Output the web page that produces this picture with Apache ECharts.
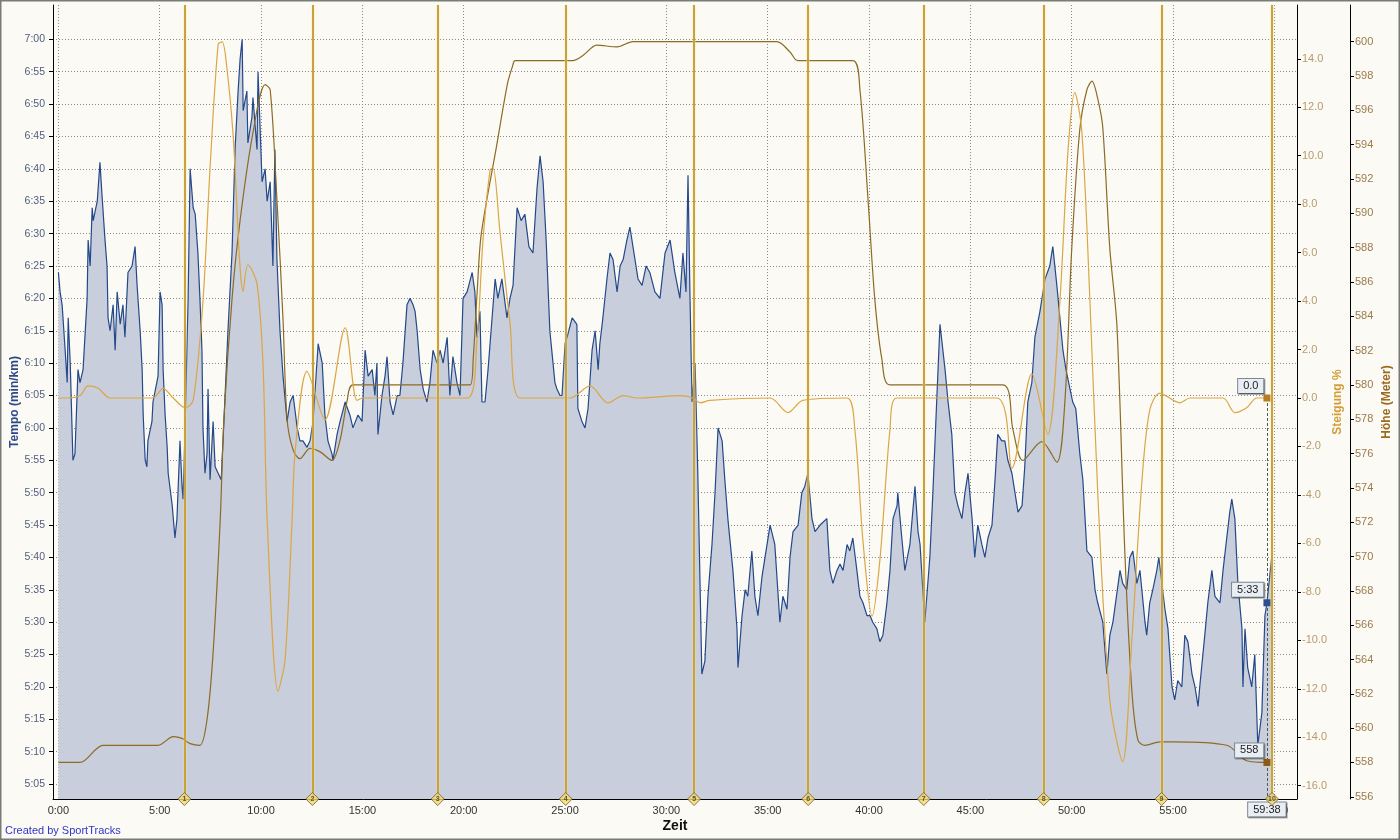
<!DOCTYPE html>
<html><head><meta charset="utf-8">
<script src="https://cdn.jsdelivr.net/npm/echarts@6/dist/echarts.min.js"></script>
<style>html,body{margin:0;padding:0;background:#FBFAF5}#c{width:1400px;height:840px}</style>
</head><body><div id="c"></div>
<script>
// time in seconds, pace in seconds per km
const tempo = [[0,384],[5,381],[11,379],[20,372],[26,367],[29,377],[35,370],[43,355],[49,356],[58,369],[64,367],[73,369],[85,380],[88,389],[94,385],[100,394],[103,392],[115,395],[123,401],[129,396],[138,389],[144,385],[147,377],[153,375],[162,379],[168,372],[174,381],[183,376],[191,379],[197,374],[206,384],[218,385],[227,388],[233,382],[242,375],[248,369],[251,362],[257,355],[262,354],[265,358],[277,361],[280,364],[295,368],[301,381],[307,379],[310,369],[316,362],[322,357],[325,353],[337,348],[345,343],[351,346],[360,358],[366,351],[369,349],[375,360],[384,380],[390,400],[399,394],[405,393],[413,387],[419,380],[425,372],[428,360],[434,353],[440,356],[443,366],[449,352],[458,361],[464,354],[473,353],[482,352],[490,361],[502,375],[514,387],[523,403],[532,412],[538,417],[544,420],[547,409],[558,412],[561,404],[573,408],[576,411],[588,403],[591,415],[603,398],[612,400],[618,395],[627,398],[635,385],[641,403],[647,386],[656,375],[665,368],[677,361],[686,364],[695,365],[707,360],[715,358],[724,358],[736,357],[745,358],[754,361],[769,373],[781,370],[789,362],[798,358],[810,356],[813,355],[825,359],[834,361],[849,364],[863,362],[872,360],[887,362],[899,361],[908,372],[917,368],[929,369],[937,365],[943,370],[946,359],[958,365],[967,368],[973,371],[982,364],[991,362],[1003,365],[1011,365],[1020,370],[1032,379],[1041,380],[1050,379],[1056,378],[1062,375],[1071,369],[1080,366],[1091,364],[1100,367],[1109,372],[1121,370],[1130,372],[1139,370],[1151,374],[1159,365],[1168,371],[1180,367],[1189,365],[1198,380],[1210,381],[1225,384],[1233,381],[1239,374],[1248,378],[1254,364],[1263,364],[1272,369],[1284,377],[1293,383],[1301,380],[1313,383],[1328,377],[1337,380],[1346,382],[1358,394],[1370,392],[1381,393],[1393,388],[1405,387],[1417,397],[1426,402],[1435,398],[1444,389],[1455,375],[1470,367],[1476,366],[1485,365],[1491,365],[1500,373],[1506,374],[1521,377],[1535,376],[1538,363],[1550,361],[1559,360],[1568,363],[1580,372],[1589,375],[1598,369],[1603,373],[1612,377],[1624,383],[1633,387],[1642,386],[1654,381],[1663,385],[1672,386],[1683,389],[1692,391],[1707,386],[1716,383],[1728,382],[1740,385],[1751,384],[1766,381],[1781,380],[1796,387],[1811,389],[1825,384],[1840,380],[1849,387],[1858,381],[1864,399],[1870,380],[1876,364],[1885,370],[1893,353],[1905,322],[1914,324],[1923,334],[1935,342],[1944,350],[1953,360],[1965,358],[1973,352],[1982,346],[1997,338],[2009,329],[2012,323],[2024,331],[2033,335],[2041,334],[2053,341],[2062,334],[2071,331],[2083,337],[2092,340],[2107,345],[2121,342],[2136,330],[2145,334],[2157,332],[2166,340],[2175,344],[2190,345],[2201,350],[2210,351],[2219,353],[2231,346],[2240,344],[2255,345],[2275,346],[2284,338],[2293,336],[2305,338],[2314,339],[2323,338],[2335,342],[2343,341],[2352,343],[2364,338],[2373,334],[2382,333],[2394,331],[2403,331],[2411,330],[2423,329],[2432,327],[2441,328],[2453,333],[2462,338],[2471,346],[2483,348],[2485,350],[2497,343],[2506,338],[2521,342],[2536,351],[2545,344],[2551,342],[2565,330],[2580,340],[2589,350],[2601,365],[2610,376],[2625,369],[2634,364],[2645,359],[2654,350],[2663,348],[2675,346],[2684,350],[2693,353],[2705,346],[2713,340],[2722,345],[2734,342],[2743,340],[2752,343],[2764,345],[2773,352],[2781,359],[2793,358],[2802,358],[2811,355],[2823,353],[2832,350],[2841,347],[2853,348],[2861,354],[2870,364],[2882,367],[2891,374],[2906,378],[2921,383],[2935,385],[2944,388],[2956,382],[2965,377],[2974,372],[2983,369],[2995,366],[3003,364],[3012,363],[3024,356],[3033,352],[3045,341],[3060,340],[3069,335],[3077,333],[3092,330],[3104,322],[3113,328],[3122,330],[3143,338],[3151,336],[3163,335],[3172,340],[3181,341],[3193,336],[3202,338],[3217,330],[3222,328],[3231,333],[3240,335],[3252,338],[3258,340],[3267,336],[3276,332],[3285,329],[3297,320],[3305,318],[3314,321],[3326,320],[3335,328],[3344,327],[3356,322],[3365,320],[3374,317],[3379,320],[3394,328],[3403,333],[3415,338],[3424,334],[3439,333],[3448,338],[3459,343],[3468,347],[3474,349],[3483,346],[3492,336],[3504,329],[3507,320],[3513,329],[3521,323],[3533,320],[3542,325],[3551,311],[3563,316],[3572,331],[3578,333],[3592,340]];

// elevation in meters
const elevation = [[0,558.0],[64,558.0],[132,559.0],[295,559.0],[340,559.5],[366,559.4],[390,559.1],[419,559.0],[440,560.5],[458,564.4],[479,572.1],[490,578.0],[514,585.0],[538,589.6],[576,594.7],[612,597.5],[627,597.2],[647,590.8],[665,583.8],[677,578.0],[695,576.2],[715,575.7],[745,576.3],[775,576.1],[810,575.6],[834,576.8],[855,579.1],[872,580.0],[1219,580.0],[1228,581.5],[1240,585.5],[1252,588.8],[1298,594.0],[1330,597.6],[1345,598.6],[1352,598.9],[1523,598.9],[1553,599.2],[1594,599.8],[1654,599.7],[1701,600.0],[2127,600.0],[2166,599.4],[2189,598.9],[2352,598.9],[2373,597.2],[2397,590.8],[2417,585.0],[2438,581.5],[2462,580.0],[2796,580.0],[2826,577.4],[2855,575.6],[2911,576.7],[2956,575.5],[2980,579.1],[3000,587.9],[3024,594.9],[3045,597.2],[3060,597.7],[3078,596.6],[3092,595.0],[3113,587.9],[3134,583.4],[3157,570.4],[3178,562.2],[3196,559.3],[3217,559.0],[3261,559.2],[3300,559.2],[3459,559.0],[3518,558.1],[3578,558.0]];

// grade in percent
const grade = [[0,0.0],[26,0.0],[64,0.1],[88,0.5],[118,0.4],[153,0.0],[280,0.0],[310,0.4],[340,0.0],[375,-0.4],[399,-0.1],[428,4.0],[449,9.5],[473,14.6],[485,14.7],[499,13.6],[517,10.9],[547,4.4],[561,5.5],[588,4.7],[606,1.3],[618,-5.0],[650,-12.1],[671,-10.8],[692,-5.0],[701,-2.2],[736,1.1],[789,-0.9],[849,2.9],[884,-0.1],[902,0.0],[1210,0.0],[1239,2.4],[1257,6.5],[1278,9.4],[1287,9.5],[1307,6.9],[1337,3.1],[1367,0.0],[1515,0.0],[1574,0.5],[1627,-0.2],[1672,0.1],[1713,0.0],[1840,0.1],[1879,0.0],[1900,-0.2],[1929,-0.1],[2107,0.0],[2160,-0.6],[2204,-0.1],[2335,0.0],[2358,-1.3],[2382,-5.9],[2409,-9.0],[2432,-6.7],[2462,-1.3],[2482,0.0],[2778,0.0],[2823,-2.9],[2882,1.0],[2929,-1.5],[2965,4.0],[2989,10.2],[3009,12.6],[3030,11.0],[3054,4.0],[3078,-4.2],[3113,-12.5],[3151,-15.0],[3178,-10.0],[3208,-3.4],[3231,-0.5],[3261,0.2],[3320,-0.2],[3350,0.0],[3448,0.0],[3483,-0.6],[3518,-0.4],[3548,0.0],[3578,0.0]];

const lapTimes = [373, 752, 1123, 1502, 1882, 2220, 2562, 2917, 3266, 3593];
const lapLabels = ['1','2','3','4','5','6','7','8','9','10'];
const timeTicks = [0,300,600,900,1200,1500,1800,2100,2400,2700,3000,3300,3600];
const tempoTicks = [305,310,315,320,325,330,335,340,345,350,355,360,365,370,375,380,385,390,395,400,405,410,415,420];
const gradeTicks = [-16,-14,-12,-10,-8,-6,-4,-2,0,2,4,6,8,10,12,14];
const heightTicks = [556,558,560,562,564,566,568,570,572,574,576,578,580,582,584,586,588,590,592,594,596,598,600];
const cursorTime = 3578;
const cursorTempo = 333;
const cursorGrade = 0.0;
const cursorHeight = 558;

const X_MIN = -16, X_MAX = 3667;
const T_MIN = 302.7, T_MAX = 425.3;
const G_MIN = -16.55, G_MAX = 16.22;
const H_MIN = 555.87, H_MAX = 602.14;

function fmtPace(v){ const m = Math.floor(v/60); const s = Math.round(v - m*60); return m + ':' + String(s).padStart(2,'0'); }
function fmtTime(v){ const m = Math.floor(v/60); const s = Math.round(v - m*60); return m + ':' + String(s).padStart(2,'0'); }

const FONT = 'Liberation Sans, Arial, sans-serif';
const boxLabel = {
  show: true, position: 'left', distance: 0,
  backgroundColor: '#E8EEF4', borderColor: '#7C8894', borderWidth: 1,
  padding: [2, 5, 1, 5], fontSize: 11, fontFamily: FONT, color: '#222',
  shadowColor: 'rgba(0,0,0,0.3)', shadowOffsetX: 1, shadowOffsetY: 1, shadowBlur: 0
};

const chart = echarts.init(document.getElementById('c'), null, {renderer: 'canvas'});
chart.setOption({
  backgroundColor: '#FBFAF5',
  animation: false,
  grid: {left: 53, right: 103, top: 5, bottom: 41, containLabel: false, outerBoundsMode: 'none'},
  graphic: [
    {type: 'rect', silent: true, z: 100, shape: {x: 0.5, y: 0.5, width: 1399, height: 839}, style: {fill: 'none', stroke: '#7A7A7A', lineWidth: 2}},
    {type: 'text', left: 5, top: 825, silent: true, style: {text: 'Created by SportTracks', fill: '#2F35C8', font: '11px ' + FONT}}
  ],
  xAxis: {
    type: 'value', min: X_MIN, max: X_MAX,
    name: 'Zeit', nameLocation: 'middle', nameGap: 20, nameMoveOverlap: false,
    nameTextStyle: {fontSize: 14, fontWeight: 'bold', color: '#111', fontFamily: FONT},
    axisLine: {onZero: false, lineStyle: {color: '#000', width: 1}},
    axisTick: {show: false, customValues: timeTicks},
    axisLabel: {customValues: timeTicks, formatter: v => fmtTime(v), fontSize: 11, color: '#333', fontFamily: FONT, margin: 6},
    splitLine: {show: true, lineStyle: {color: '#8A8A8A', type: [1, 2], width: 1}}
  },
  yAxis: [
    {
      type: 'value', min: T_MIN, max: T_MAX, position: 'left',
      name: 'Tempo (min/km)', nameLocation: 'middle', nameGap: 32, nameRotate: 90, nameMoveOverlap: false,
      nameTextStyle: {fontSize: 12, fontWeight: 'bold', color: '#2E4A86', fontFamily: FONT},
      axisLine: {show: true, onZero: false, lineStyle: {color: '#000'}},
      axisTick: {show: true, length: 4, customValues: tempoTicks, lineStyle: {color: '#000'}},
      axisLabel: {customValues: tempoTicks, formatter: v => fmtPace(v), fontSize: 10.5, color: '#4F5D7E', fontFamily: FONT, margin: 8},
      splitLine: {show: true, lineStyle: {color: '#8A8A8A', type: [1, 2], width: 1}}
    },
    {
      type: 'value', min: G_MIN, max: G_MAX, position: 'right', offset: 0,
      name: 'Steigung %', nameLocation: 'middle', nameGap: 35, nameRotate: 90, nameMoveOverlap: false,
      nameTextStyle: {fontSize: 12, fontWeight: 'bold', color: '#D29E3A', fontFamily: FONT},
      axisLine: {show: true, onZero: false, lineStyle: {color: '#000'}},
      axisTick: {show: true, length: 4, customValues: gradeTicks, lineStyle: {color: '#000'}},
      axisLabel: {customValues: gradeTicks, formatter: v => v.toFixed(1), fontSize: 11, color: '#B99A6B', fontFamily: FONT, margin: 5},
      splitLine: {show: false}
    },
    {
      type: 'value', min: H_MIN, max: H_MAX, position: 'right', offset: 53,
      name: 'Höhe (Meter)', nameLocation: 'middle', nameGap: 31, nameRotate: 90, nameMoveOverlap: false,
      nameTextStyle: {fontSize: 12, fontWeight: 'bold', color: '#9C6A1E', fontFamily: FONT},
      axisLine: {show: true, onZero: false, lineStyle: {color: '#000'}},
      axisTick: {show: true, length: 4, customValues: heightTicks, lineStyle: {color: '#000'}},
      axisLabel: {customValues: heightTicks, formatter: v => String(v), fontSize: 11, color: '#9C7B4B', fontFamily: FONT, margin: 5},
      splitLine: {show: false}
    }
  ],
  series: [
    {
      name: 'Tempo', type: 'line', xAxisIndex: 0, yAxisIndex: 0, data: tempo,
      showSymbol: false, symbol: 'none', z: 2,
      lineStyle: {color: '#24488A', width: 1.2},
      areaStyle: {color: '#C8CEDB', opacity: 1, origin: 'start'},
      markPoint: {
        z: 8, silent: true,
        data: [
          {coord: [cursorTime, cursorTempo], symbol: 'rect', symbolSize: 7, itemStyle: {color: '#2D4F8F'},
           label: Object.assign({}, boxLabel, {formatter: fmtPace(cursorTempo), offset: [0, -13]})},
          {coord: [cursorTime, T_MIN], symbol: 'rect', symbolSize: 1, itemStyle: {color: 'rgba(0,0,0,0)'},
           label: Object.assign({}, boxLabel, {position: 'bottom', distance: 3, formatter: fmtTime(cursorTime), offset: [0, 0]})}
        ]
      }
    },
    {
      name: 'Höhe', type: 'line', xAxisIndex: 0, yAxisIndex: 2, data: elevation,
      showSymbol: false, symbol: 'none', smooth: 0.3, z: 3,
      lineStyle: {color: '#8C6B24', width: 1.2},
      markPoint: {
        z: 8, silent: true,
        data: [
          {coord: [cursorTime, cursorHeight], symbol: 'rect', symbolSize: 7, itemStyle: {color: '#8E5A18'},
           label: Object.assign({}, boxLabel, {formatter: String(cursorHeight), offset: [0, -12]})}
        ]
      }
    },
    {
      name: 'Steigung', type: 'line', xAxisIndex: 0, yAxisIndex: 1, data: grade,
      showSymbol: false, symbol: 'none', smooth: 0.3, z: 3,
      lineStyle: {color: '#DBA643', width: 1.2},
      markLine: {
        z: 4, silent: true, symbol: 'none', label: {show: false}, animation: false,
        data: lapTimes.map(t => ({xAxis: t, lineStyle: {color: '#C9A23C', width: 2, type: 'solid', shadowColor: '#F3E2A2', shadowBlur: 2}}))
          .concat([[{coord: [cursorTime, cursorGrade], lineStyle: {color: '#555', width: 1, type: [3, 2]}}, {coord: [cursorTime, G_MIN]}]])
      },
      markPoint: {
        z: 8, silent: true,
        data: [
          {coord: [cursorTime, cursorGrade], symbol: 'rect', symbolSize: 7, itemStyle: {color: '#B87A25'},
           label: Object.assign({}, boxLabel, {formatter: cursorGrade.toFixed(1), offset: [0, -12]})}
        ]
      }
    },
    {
      name: 'Runden', type: 'scatter', xAxisIndex: 0, yAxisIndex: 0, clip: false, z: 10, silent: true,
      data: lapTimes.map(t => [t, T_MIN]),
      symbol: 'diamond', symbolSize: 13,
      itemStyle: {color: '#F5D86F', borderColor: '#6F5E25', borderWidth: 1},
      label: {show: true, position: 'inside', formatter: p => lapLabels[p.dataIndex], fontSize: 7, fontWeight: 'bold', color: '#333', fontFamily: FONT}
    }
  ]
});
</script>
</body></html>
